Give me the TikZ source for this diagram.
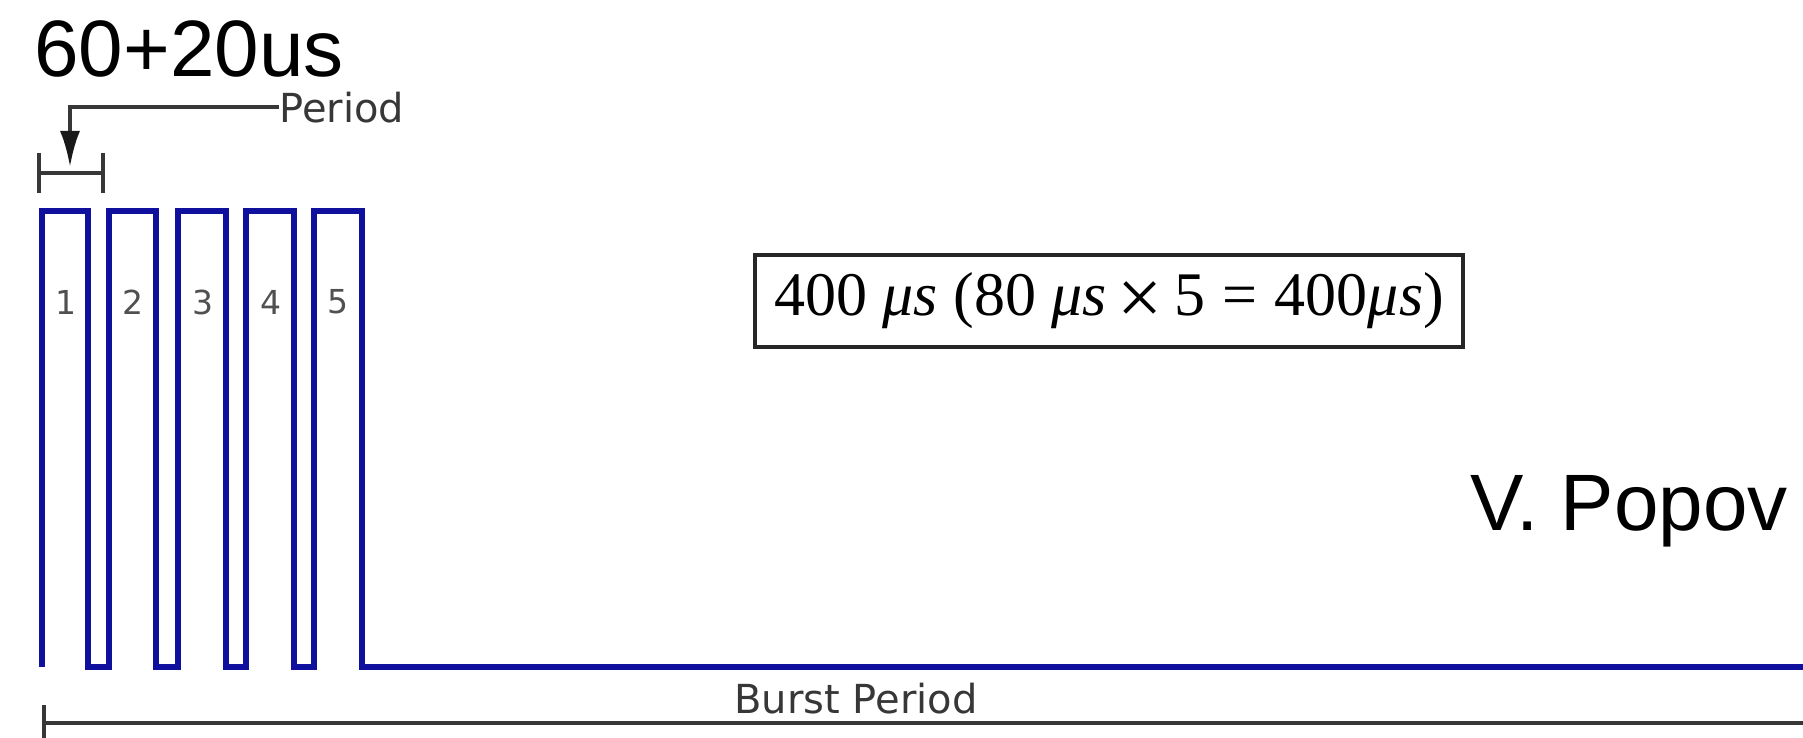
\documentclass[tikz,border=0pt]{standalone}
\usepackage{fontspec}
\usetikzlibrary{arrows.meta}
\newfontfamily\sansA{Liberation Sans}
\newfontfamily\dejavu{DejaVu Sans}
\newfontfamily\serifA{Liberation Serif}
\definecolor{pulseblue}{RGB}{16,16,158}
\definecolor{dimgray}{RGB}{55,55,55}
\definecolor{numgray}{RGB}{80,80,80}
\tikzset{
  bigtext/.style={inner sep=0pt, anchor=base west, font=\sansA\fontsize{40pt}{48pt}\selectfont},
  dimtext/.style={inner sep=0pt, anchor=base west, text=dimgray, font=\dejavu\fontsize{20pt}{24pt}\selectfont},
  numtext/.style={inner sep=0pt, anchor=center, text=numgray, font=\dejavu\fontsize{16.5pt}{18pt}\selectfont},
  dimline/.style={draw=dimgray, line width=2pt},
  pulse/.style={draw=pulseblue, line width=3.3pt, line join=miter},
  formulabox/.style={draw=black!85, line width=2pt, inner sep=0pt, minimum width=354pt, minimum height=46pt, font=\serifA\fontsize{31pt}{36pt}\selectfont}
}
\begin{document}
\begin{tikzpicture}[x=0.5pt,y=-0.5pt]
\useasboundingbox (0,0) rectangle (1803,738);
% titles
\node[bigtext] (t60) at (34,77) {60+20us};
\node[bigtext] (popov) at (1470,530) {V. Popov};
% period annotation
\node[dimtext] (per) at (279,122) {Period};
\coordinate (ptip) at (70,167);
\draw[dimline,-{Latex[length=18pt,width=10pt,color=black!90]}] (per.west) -| (ptip);
\coordinate (pa) at (37,173);
\coordinate (pb) at (105,173);
\draw[dimline,{Bar[width=20pt]}-{Bar[width=20pt]}] (pa) -- (pb);
% pulse train
\draw[pulse] (42,667) -- (42,211) -- (88,211) -- (88,667) -- (109,667)
  -- (109,211) -- (156,211) -- (156,667) -- (178,667)
  -- (178,211) -- (226,211) -- (226,667) -- (246,667)
  -- (246,211) -- (294,211) -- (294,667) -- (314,667)
  -- (314,211) -- (362,211) -- (362,667) -- (1806,667);
\node[numtext] (n1) at (66,302) {1};
\node[numtext] (n2) at (133,302) {2};
\node[numtext] (n3) at (203,302) {3};
\node[numtext] (n4) at (271,302) {4};
\node[numtext] (n5) at (338,302) {5};
% formula box
\node[formulabox] (box) at (1109,301) {400 \textit{μs} (80 \textit{μs}\hspace{0.18em}\raisebox{-4.5pt}{\fontsize{40pt}{40pt}\selectfont ×}\hspace{0.18em}5\hspace{0.28em}=\hspace{0.28em}400\textit{μs})};
% burst period
\coordinate (ba) at (42,723);
\coordinate (bb) at (1806,723);
\draw[dimline,{Bar[width=18pt]}-] (ba) -- (bb);
\node[dimtext] (burst) at (734,713) {Burst Period};
\end{tikzpicture}
\end{document}
